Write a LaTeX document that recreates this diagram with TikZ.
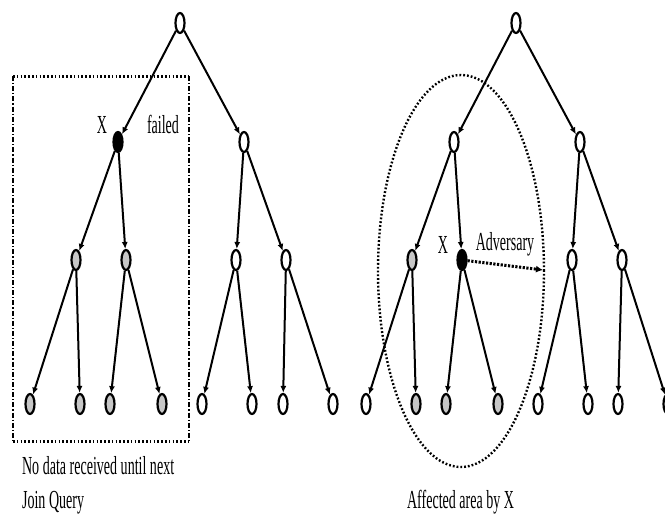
\documentclass[tikz,border=0pt]{standalone}
\usepackage{fontspec}
\setmainfont{Liberation Serif}
\usetikzlibrary{shapes.geometric,arrows.meta}
\definecolor{nodegray}{gray}{0.78}

\begin{document}
\begin{tikzpicture}[x=1pt,y=1pt,
  sensor/.style={draw,ellipse,line width=2.2pt,minimum width=9pt,minimum height=20pt,inner sep=0pt},
  wn/.style={sensor,fill=white},
  gn/.style={sensor,fill=nodegray},
  bn/.style={sensor,fill=black},
  link/.style={line width=2pt,-{Latex[length=7pt,width=6pt]}},
  lbl/.style={font=\fontsize{26}{30}\selectfont,inner sep=0pt,xscale=0.54},
  boxrow/.style={line width=3pt,dash pattern=on 1.5pt off 2.3pt},
  boxcol/.style={line width=1.4pt,dash pattern=on 5pt off 2pt on 1.2pt off 2pt},
  area/.style={line width=2.4pt,dash pattern=on 1.8pt off 2pt},
  attack/.style={line width=3pt,dash pattern=on 2.2pt off 1.5pt,-{Latex[length=7pt,width=7pt]}}]
\useasboundingbox (0,0) rectangle (665,-520);
% left tree: X has failed
\node[wn] (l0) at (180,-23) {};
\node[bn] (l1) at (118,-142) {};
\node[wn] (l2) at (244,-142) {};
\node[gn] (l3) at (76,-260) {};
\node[gn] (l4) at (126,-260) {};
\node[wn] (l5) at (236,-260) {};
\node[wn] (l6) at (286,-260) {};
\node[gn] (l7) at (30,-404) {};
\node[gn] (l8) at (80,-404) {};
\node[gn] (l9) at (110,-404) {};
\node[gn] (l10) at (162,-404) {};
\node[wn] (l11) at (202,-404) {};
\node[wn] (l12) at (252,-404) {};
\node[wn] (l13) at (283,-404) {};
\node[wn] (l14) at (333,-404) {};
\draw[link] (l0) -- (l1);
\draw[link] (l0) -- (l2);
\draw[link] (l1) -- (l3);
\draw[link] (l1) -- (l4);
\draw[link] (l2) -- (l5);
\draw[link] (l2) -- (l6);
\draw[link] (l3) -- (l7);
\draw[link] (l3) -- (l8);
\draw[link] (l4) -- (l9);
\draw[link] (l4) -- (l10);
\draw[link] (l5) -- (l11);
\draw[link] (l5) -- (l12);
\draw[link] (l6) -- (l13);
\draw[link] (l6) -- (l14);
\node[lbl,anchor=base] (lx) at (102,-133) {X};
\node[lbl,anchor=base] (lfail) at (163,-133) {failed};
\draw[boxrow] (13,-76) -- (189,-76);
\draw[boxrow] (13,-441) -- (189,-441);
\draw[boxcol] (13,-76) -- (13,-441);
\draw[boxcol] (189,-76) -- (189,-441);
\node[lbl,anchor=base west] (lnote1) at (22,-474) {No data received until next};
\node[lbl,anchor=base west] (lnote2) at (22,-508) {Join Query};
% right tree: X is an adversary
\node[wn] (r0) at (516,-23) {};
\node[wn] (r1) at (454,-142) {};
\node[wn] (r2) at (580,-142) {};
\node[gn] (r3) at (412,-260) {};
\node[bn] (r4) at (462,-260) {};
\node[wn] (r5) at (572,-260) {};
\node[wn] (r6) at (622,-260) {};
\node[wn] (r7) at (366,-404) {};
\node[gn] (r8) at (416,-404) {};
\node[gn] (r9) at (446,-404) {};
\node[gn] (r10) at (498,-404) {};
\node[wn] (r11) at (538,-404) {};
\node[wn] (r12) at (588,-404) {};
\node[wn] (r13) at (618,-404) {};
\node[wn] (r14) at (668,-404) {};
\draw[link] (r0) -- (r1);
\draw[link] (r0) -- (r2);
\draw[link] (r1) -- (r3);
\draw[link] (r1) -- (r4);
\draw[link] (r2) -- (r5);
\draw[link] (r2) -- (r6);
\draw[link] (r3) -- (r7);
\draw[link] (r3) -- (r8);
\draw[link] (r4) -- (r9);
\draw[link] (r4) -- (r10);
\draw[link] (r5) -- (r11);
\draw[link] (r5) -- (r12);
\draw[link] (r6) -- (r13);
\draw[link] (r6) -- (r14);
\draw[area] (461,-271) ellipse [x radius=83, y radius=196];
\coordinate (adv) at (543,-270);
\draw[attack] (r4) -- (adv);
\node[lbl,anchor=base] (rx) at (443,-253) {X};
\node[lbl,anchor=base] (radv) at (505,-250) {Adversary};
\node[lbl,anchor=base west] (rnote) at (407,-508) {Affected area by X};
\end{tikzpicture}
\end{document}
